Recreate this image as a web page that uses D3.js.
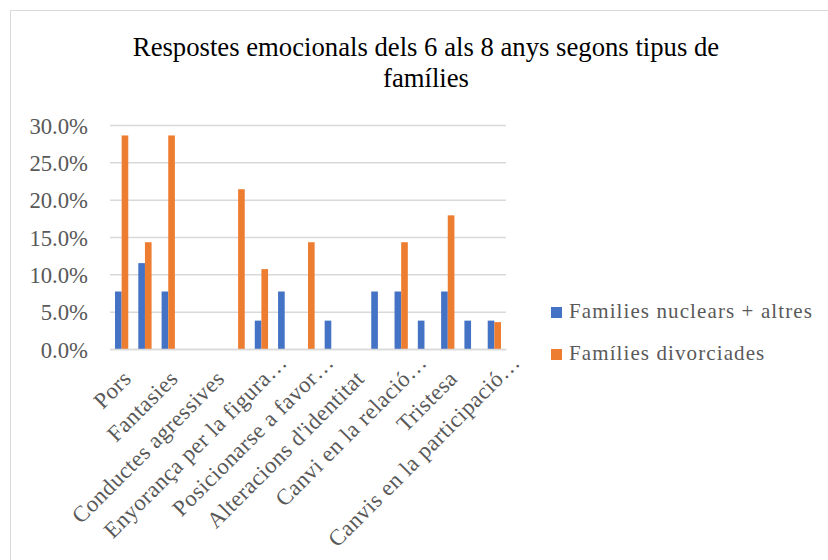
<!DOCTYPE html>
<html>
<head>
<meta charset="utf-8">
<script src="https://cdn.jsdelivr.net/npm/d3@7"></script>
</head>
<body style="margin:0;background:#fff">
<svg id="viz" width="828" height="560" style="display:block"></svg>
<script>
// ---- data ----
const titleLines = ["Respostes emocionals dels 6 als 8 anys segons tipus de", "famílies"];
// 17 categories; the reference only displays every other category label
const categoryLabels = [
  "Pors", null, "Fantasies", null, "Conductes agressives", null,
  "Enyorança per la figura…", null, "Posicionarse a favor…", null,
  "Alteracions d'identitat", null, "Canvi en la relació…", null,
  "Tristesa", null, "Canvis en la participació…"
];
const seriesNames = ["Families nuclears + altres", "Famílies divorciades"];
const nuclears    = [0.077, 0.115, 0.077, 0, 0, 0, 0.038, 0.077, 0, 0.038, 0, 0.077, 0.077, 0.038, 0.077, 0.038, 0.038];
const divorciades = [0.286, 0.143, 0.286, 0, 0, 0.214, 0.107, 0, 0.143, 0, 0, 0, 0.143, 0, 0.179, 0, 0.036];
const yTicks = [0, 0.05, 0.10, 0.15, 0.20, 0.25, 0.30];
const colors = ["#4472C4", "#ED7D31"];

const FONT = "Liberation Serif";

// ---- layout ----
const svg = d3.select("#viz");
const plot = { left: 110, right: 506, top: 125, bottom: 349 };

// chart border
svg.append("rect")
  .attr("x", 10.5).attr("y", 10.5)
  .attr("width", 900).attr("height", 700)
  .attr("fill", "#fff").attr("stroke", "#d9d9d9").attr("stroke-width", 1);

// title
const title = svg.append("text")
  .attr("font-family", FONT)
  .attr("font-size", 26.7).attr("fill", "#000")
  .attr("text-anchor", "middle");
titleLines.forEach((line, i) => {
  title.append("tspan").attr("x", 426).attr("y", 56 + i * 31).text(line);
});

const idx = d3.range(categoryLabels.length);
const x = d3.scaleBand().domain(idx).range([plot.left, plot.right]).paddingInner(0).paddingOuter(0);
const y = d3.scaleLinear().domain([0, 0.30]).range([plot.bottom, plot.top]);

// gridlines + y tick labels
const yAxis = d3.axisLeft(y).tickValues(yTicks).tickSize(-(plot.right - plot.left))
  .tickFormat(d3.format(".1%"));
const gy = svg.append("g").attr("transform", `translate(${plot.left},0)`).call(yAxis);
gy.attr("font-family", FONT).attr("font-size", 22.7);
gy.select(".domain").remove();
gy.selectAll(".tick line").attr("stroke", "#d9d9d9").attr("stroke-width", 1.5);
gy.selectAll(".tick text")
  .attr("font-family", FONT).attr("font-size", 22.7)
  .attr("fill", "#595959").attr("x", -22).attr("dy", "0.36em");

// bars
const barW = x.bandwidth() * 0.285;
const series = [nuclears, divorciades];
series.forEach((vals, s) => {
  svg.append("g").selectAll("rect")
    .data(vals.map((v, i) => ({ i, v })).filter(d => d.v > 0))
    .join("rect")
    .attr("x", d => x(d.i) + x.bandwidth() / 2 - barW + s * barW)
    .attr("y", d => y(d.v))
    .attr("width", barW)
    .attr("height", d => y(0) - y(d.v))
    .attr("fill", colors[s]);
});

// x axis line
const xAxis = d3.axisBottom(x).tickSize(0).tickFormat(() => "");
const gx = svg.append("g").attr("transform", `translate(0,${plot.bottom})`).call(xAxis);
gx.attr("font-family", FONT);
gx.select(".domain").attr("stroke", "#d9d9d9").attr("stroke-width", 1.5);

// rotated category labels
const probe = svg.append("text").attr("font-family", FONT).attr("font-size", 22.7).text("…");
const ellW = probe.node().getComputedTextLength();
probe.remove();
const k = Math.SQRT1_2;
svg.append("g").selectAll("text")
  .data(idx.filter(i => categoryLabels[i]))
  .join("text")
  .attr("font-family", FONT).attr("font-size", 22.7).attr("fill", "#595959")
  .attr("letter-spacing", 0.5)
  .attr("text-anchor", "end")
  .attr("transform", i => {
    const e = categoryLabels[i].endsWith("…") ? ellW : 0;
    const cx = x(i) + x.bandwidth() / 2;
    return `translate(${cx + 11 + e * k},${plot.bottom + 31 - e * k}) rotate(-45)`;
  })
  .text(i => categoryLabels[i]);

// legend
seriesNames.forEach((name, s) => {
  const base = 318 + s * 42;
  svg.append("rect").attr("x", 551).attr("y", base - 11).attr("width", 11).attr("height", 11).attr("fill", colors[s]);
  svg.append("text").attr("x", 569).attr("y", base)
    .attr("font-family", FONT).attr("font-size", 21)
    .attr("letter-spacing", 1.1)
    .attr("fill", "#595959").text(name);
});
</script>
</body>
</html>
